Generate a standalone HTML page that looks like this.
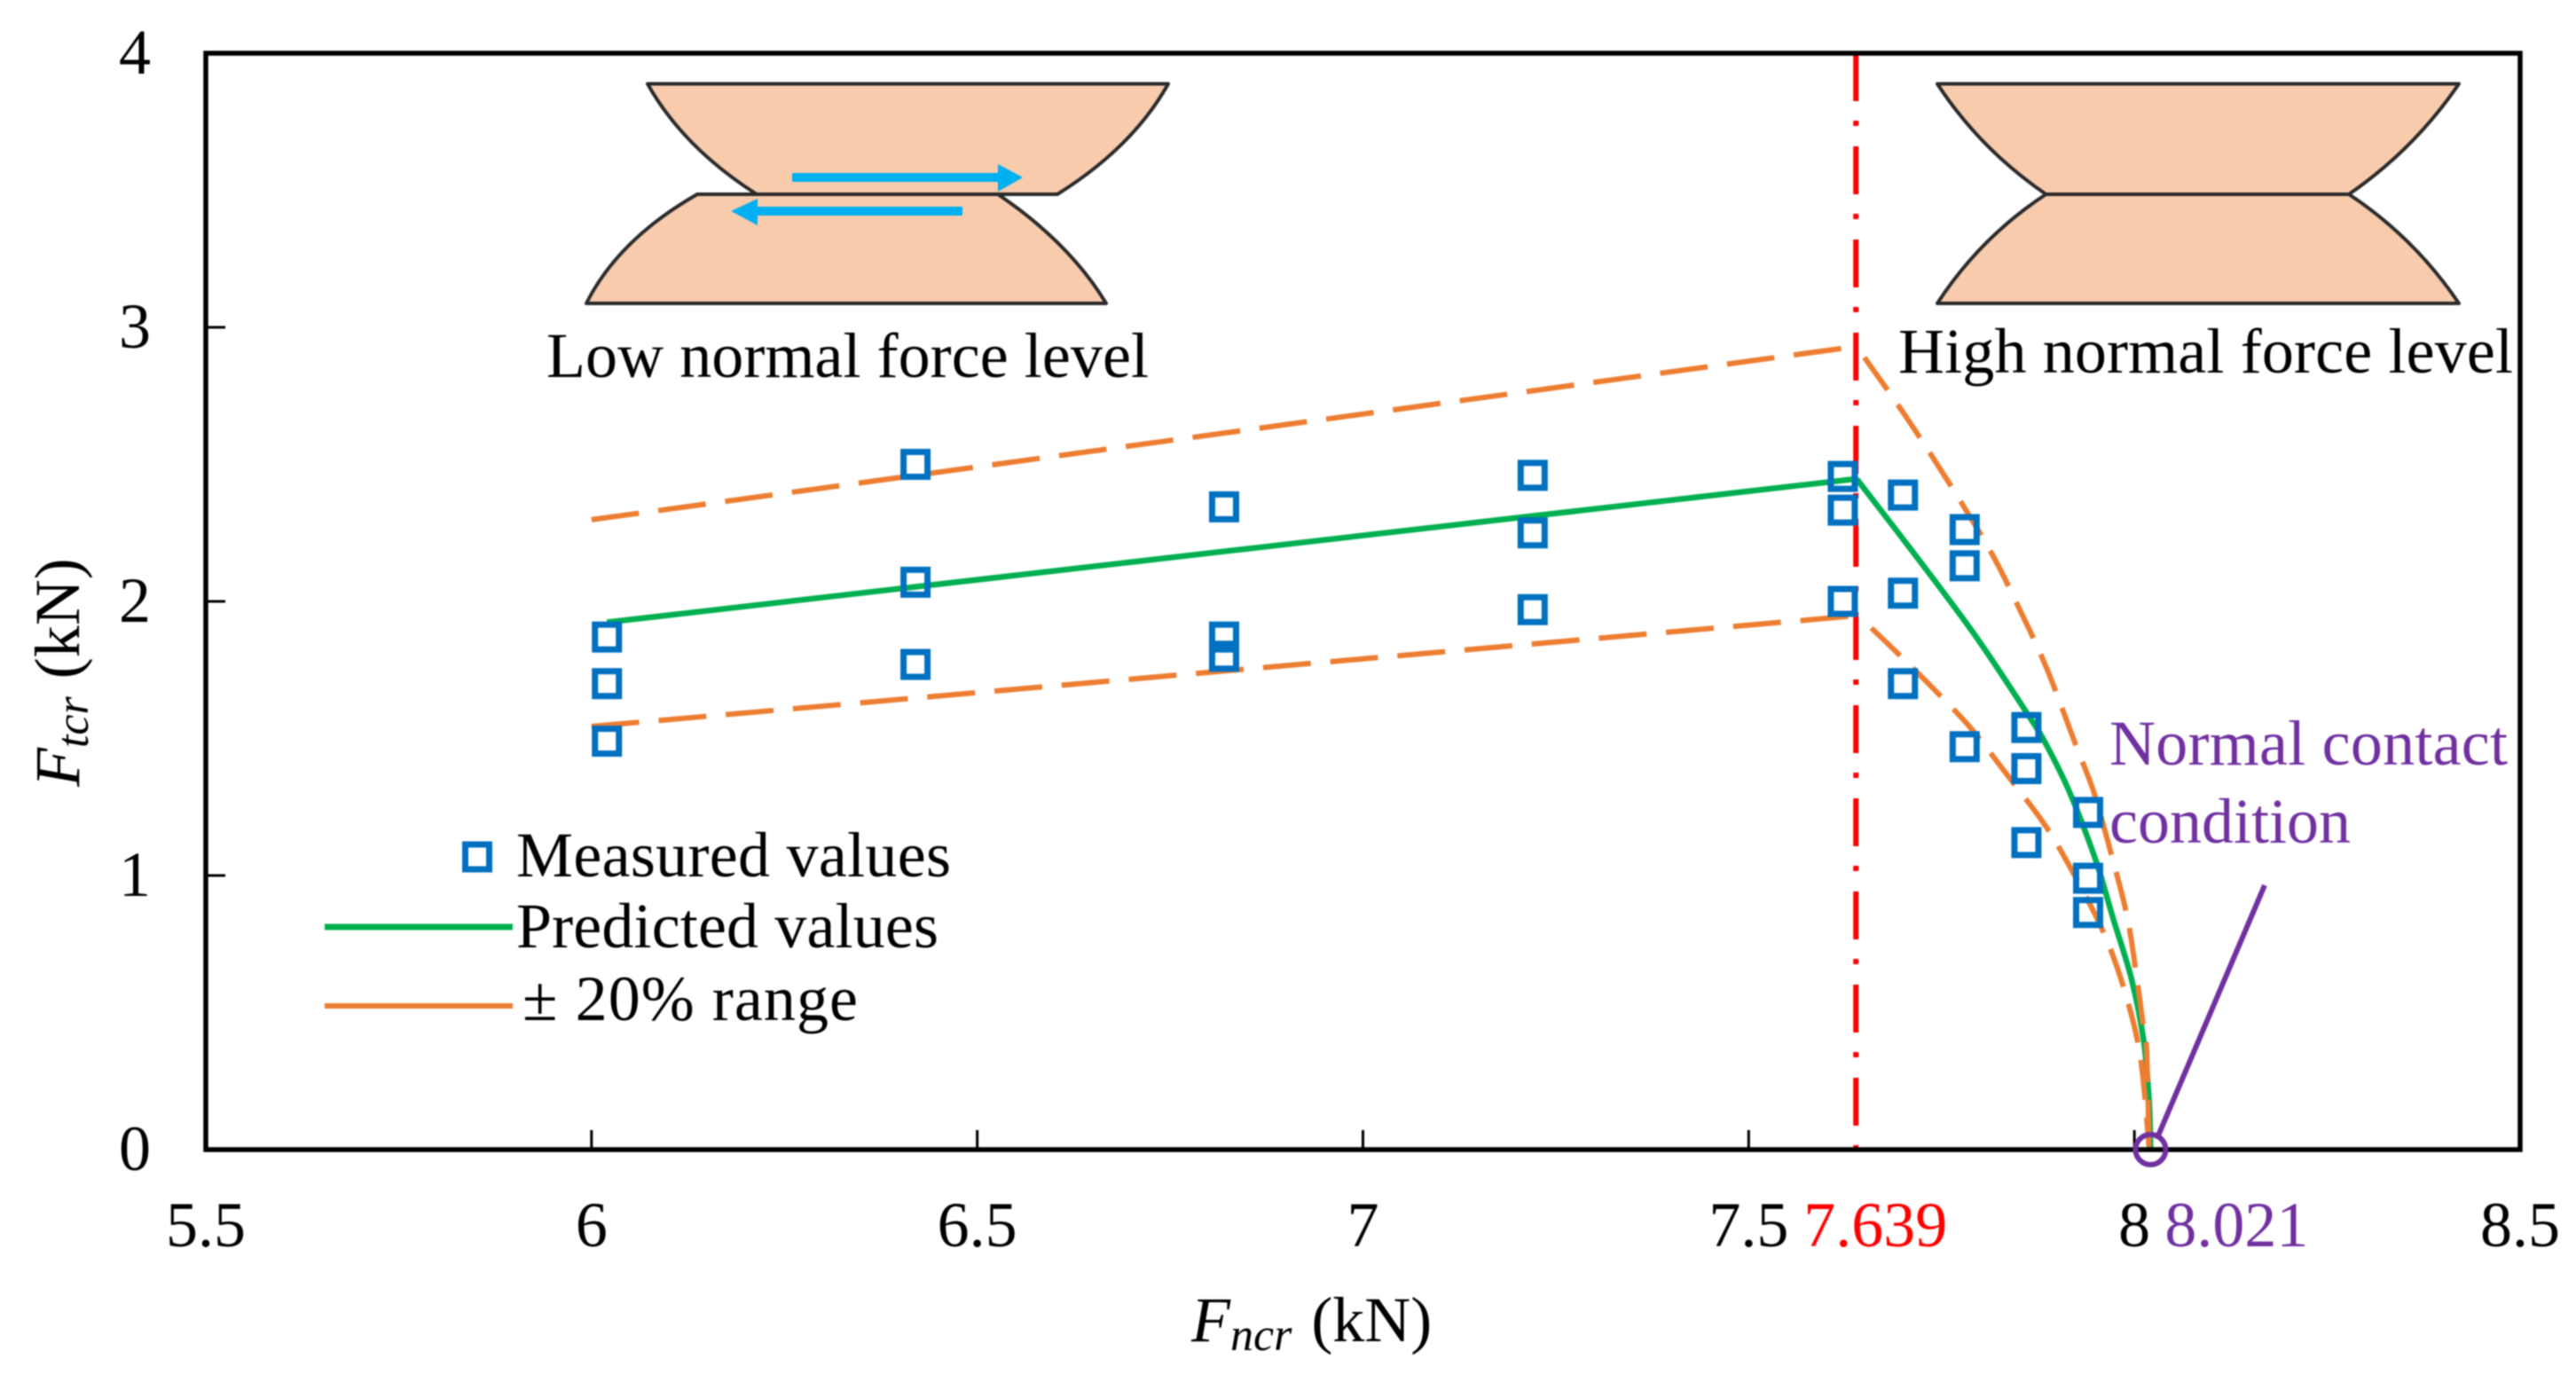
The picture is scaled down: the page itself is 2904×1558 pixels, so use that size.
<!DOCTYPE html>
<html lang="en">
<head>
<meta charset="utf-8">
<title>Ftcr vs Fncr chart</title>
<style>
html,body{margin:0;padding:0;background:#fff;width:2904px;height:1558px;overflow:hidden}
svg{display:block;filter:blur(0.7px)}
text{font-family:"Liberation Serif","Times New Roman",serif;font-size:72px;fill:#000}
</style>
</head>
<body>
<svg id="chart" xmlns="http://www.w3.org/2000/svg" width="2904" height="1558" viewBox="0 0 2904 1558">
  <g id="layer-insets">
    <g>
      <path d="M730 94.5H1317Q1277 166 1192 219H853Q770 166 730 94.5Z" fill="#f8cbad" stroke="#2b2b2b" stroke-width="4" stroke-linejoin="round"/>
      <path d="M661 342H1247Q1206 274 1125 219H786Q697 270 661 342Z" fill="#f8cbad" stroke="#2b2b2b" stroke-width="4" stroke-linejoin="round"/>
      <path d="M893 195H1125V185L1153 200L1125 216V205H893Z" fill="#00b0f0"/>
      <path d="M1085 233H854V224L824 238L854 254V243H1085Z" fill="#00b0f0"/>
      <text x="616" y="425" textLength="679">Low normal force level</text>
    </g>
    <g>
      <path d="M2184 94.5H2772Q2722 168 2648 219H2306.5Q2232 168 2184 94.5Z" fill="#f8cbad" stroke="#2b2b2b" stroke-width="4" stroke-linejoin="round"/>
      <path d="M2184 342H2772Q2722 268 2648 219H2306.5Q2232 268 2184 342Z" fill="#f8cbad" stroke="#2b2b2b" stroke-width="4" stroke-linejoin="round"/>
      <text x="2140" y="420" textLength="693">High normal force level</text>
    </g>
  </g>
  <g id="layer-marks"></g>
  <g id="layer-axes"></g>
  <g>
    <text x="1343" y="1512"><tspan font-style="italic">F</tspan><tspan font-style="italic" font-size="52" dy="10">ncr</tspan><tspan dy="-10" dx="4"> (kN)</tspan></text>
    <text x="89" y="887" transform="rotate(-90 89 887)"><tspan font-style="italic">F</tspan><tspan font-style="italic" font-size="52" dy="10">tcr</tspan><tspan dy="-10" dx="2"> (kN)</tspan></text>
  </g>
  <g>
    <rect x="524.5" y="952" width="27" height="28" fill="none" stroke="#0070c0" stroke-width="7"/>
    <text x="582" y="988" textLength="490">Measured values</text>
    <line x1="366" y1="1045" x2="578" y2="1045" stroke="#00b050" stroke-width="7"/>
    <text x="582" y="1068" textLength="476">Predicted values</text>
    <line x1="366" y1="1134" x2="578" y2="1134" stroke="#ed7d31" stroke-width="6"/>
    <text x="589" y="1150" textLength="378">± 20% range</text>
  </g>
  <g>
    <text x="2378" y="862" textLength="449" style="fill:#7030a0">Normal contact</text>
    <text x="2378" y="950" style="fill:#7030a0">condition</text>
  </g>
</svg>
<script>
const xTicks = [5.5, 6, 6.5, 7, 7.5, 8, 8.5];
const xTickLabels = ['5.5', '6', '6.5', '7', '7.5', '8', '8.5'];
const yTicks = [0, 1, 2, 3, 4];
const yTickLabels = ['0', '1', '2', '3', '4'];

const measuredX = [6.02,6.02,6.02, 6.42,6.42,6.42, 6.82,6.82,6.82, 7.22,7.22,7.22, 7.622,7.622,7.622, 7.70,7.70,7.70, 7.78,7.78,7.78, 7.86,7.86,7.86, 7.94,7.94,7.94];
const measuredY = [1.87,1.70,1.49, 2.50,2.07,1.77, 2.345,1.87,1.80, 2.46,2.25,1.97, 2.456,2.333,2.00, 2.388,2.03,1.70, 2.262,2.13,1.47, 1.54,1.39,1.12, 1.23,0.99,0.865];

const predictedLeftX = [6.02, 7.639];
const predictedLeftY = [1.924, 2.447];
const predictedRightX = [7.640, 7.717, 7.794, 7.863, 7.886, 7.916, 7.950, 7.973, 7.996, 8.012, 8.019, 8.021];
const predictedRightY = [2.447, 2.165, 1.874, 1.583, 1.476, 1.304, 1.055, 0.838, 0.625, 0.398, 0.181, 0];

const bandLeftX = [6.0, 7.639];
const upperLeftY = [2.298, 2.93];
const lowerLeftY = [1.544, 1.948];
const upperRightX = [7.650, 7.694, 7.736, 7.778, 7.817, 7.853, 7.887, 7.924, 7.947, 7.970, 7.991, 8.004, 8.012, 8.016, 8.019];
const upperRightY = [2.890, 2.715, 2.537, 2.350, 2.165, 1.961, 1.751, 1.476, 1.307, 1.078, 0.845, 0.608, 0.440, 0.353, 0.01];
const lowerRightX = [7.659, 7.696, 7.740, 7.789, 7.838, 7.884, 7.920, 7.961, 7.989, 8.008, 8.019];
const lowerRightY = [1.903, 1.803, 1.680, 1.534, 1.356, 1.184, 1.013, 0.786, 0.563, 0.333, 0.01];

const transitionForce = 7.639;
const transitionLabel = '7.639';
const contactForce = 8.021;
const contactLabel = '8.021';

const NS = 'http://www.w3.org/2000/svg';
const X0 = 232, X1 = 2841, Y0 = 1296, Y1 = 60;
function sx(v) { return X0 + (v - 5.5) / 3 * (X1 - X0); }
function sy(v) { return Y0 - v / 4 * (Y0 - Y1); }
function make(tag, parent, attrs) {
  const el = document.createElementNS(NS, tag);
  for (const k in attrs) el.setAttribute(k, attrs[k]);
  parent.appendChild(el);
  return el;
}
function linePath(xs, ys) {
  return xs.map((x, i) => (i ? 'L' : 'M') + sx(x).toFixed(1) + ' ' + sy(ys[i]).toFixed(1)).join('');
}
function curvePath(xs, ys) {
  const p = xs.map((x, i) => [sx(x), sy(ys[i])]);
  let d = 'M' + p[0][0].toFixed(1) + ' ' + p[0][1].toFixed(1);
  for (let i = 0; i < p.length - 1; i++) {
    const a = p[Math.max(i - 1, 0)], b = p[i], c = p[i + 1], e = p[Math.min(i + 2, p.length - 1)];
    d += 'C' + (b[0] + (c[0] - a[0]) / 6).toFixed(1) + ' ' + (b[1] + (c[1] - a[1]) / 6).toFixed(1) + ' ' +
         (c[0] - (e[0] - b[0]) / 6).toFixed(1) + ' ' + (c[1] - (e[1] - b[1]) / 6).toFixed(1) + ' ' +
         c[0].toFixed(1) + ' ' + c[1].toFixed(1);
  }
  return d;
}

const marks = document.getElementById('layer-marks');
const axes = document.getElementById('layer-axes');

const redLine = make('line', marks, {x1: sx(transitionForce), x2: sx(transitionForce), y1: Y1, y2: Y0, stroke: '#ff0000', 'stroke-width': 6, 'stroke-dasharray': '54 22 6 23'});



const greenStyle = {fill: 'none', stroke: '#00b050', 'stroke-width': 6.5, 'stroke-linejoin': 'round'};
const predictedLeft = make('path', marks, Object.assign({d: linePath(predictedLeftX, predictedLeftY)}, greenStyle));


const predictedRight = make('path', marks, Object.assign({d: curvePath(predictedRightX, predictedRightY)}, greenStyle));



const bandLeftStyle = {fill: 'none', stroke: '#ed7d31', 'stroke-width': 6, 'stroke-dasharray': '54 22', 'stroke-linejoin': 'round'};
const bandRightStyle = {fill: 'none', stroke: '#ed7d31', 'stroke-width': 6, 'stroke-dasharray': '45 20', 'stroke-linejoin': 'round'};
const upperLeft = make('path', marks, Object.assign({d: linePath(bandLeftX, upperLeftY)}, bandLeftStyle));


const lowerLeft = make('path', marks, Object.assign({d: linePath(bandLeftX, lowerLeftY)}, bandLeftStyle));


const upperRight = make('path', marks, Object.assign({d: curvePath(upperRightX, upperRightY)}, bandRightStyle));


const lowerRight = make('path', marks, Object.assign({d: curvePath(lowerRightX, lowerRightY)}, bandRightStyle));



measuredX.forEach((x, i) => {
  const m = make('rect', marks, {x: sx(x) - 13.5, y: sy(measuredY[i]) - 14, width: 27, height: 28, fill: 'none', stroke: '#0070c0', 'stroke-width': 7});
  
  
});

const frame = make('rect', axes, {x: X0, y: Y1, width: X1 - X0, height: Y0 - Y1, fill: 'none', stroke: '#000', 'stroke-width': 5.5});



xTicks.forEach((v, i) => {
  if (i > 0 && i < xTicks.length - 1) {
    const t = make('line', axes, {x1: sx(v), x2: sx(v), y1: Y0, y2: Y0 - 22, stroke: '#000', 'stroke-width': 3});
    
    
  }
  const l = make('text', axes, {x: sx(v), y: 1405, 'text-anchor': 'middle'});
  l.textContent = xTickLabels[i];
  
  
});

yTicks.forEach((v, i) => {
  if (i > 0 && i < yTicks.length - 1) {
    const t = make('line', axes, {x1: X0, x2: X0 + 22, y1: sy(v), y2: sy(v), stroke: '#000', 'stroke-width': 3});
    
    
  }
  const l = make('text', axes, {x: 170, y: sy(v) + 23, 'text-anchor': 'end'});
  l.textContent = yTickLabels[i];
  
  
});

const transitionText = make('text', axes, {x: sx(transitionForce) + 22, y: 1405, 'text-anchor': 'middle', style: 'fill:#ff0000'});
transitionText.textContent = transitionLabel;



const contactText = make('text', axes, {x: sx(contactForce) + 97, y: 1405, 'text-anchor': 'middle', style: 'fill:#7030a0'});
contactText.textContent = contactLabel;



const leader = make('line', axes, {x1: 2553, y1: 998, x2: sx(contactForce) + 7, y2: sy(0) - 12, stroke: '#7030a0', 'stroke-width': 6});



const contactCircle = make('circle', axes, {cx: sx(contactForce), cy: sy(0), r: 17, fill: 'none', stroke: '#7030a0', 'stroke-width': 6});


</script>
</body>
</html>
